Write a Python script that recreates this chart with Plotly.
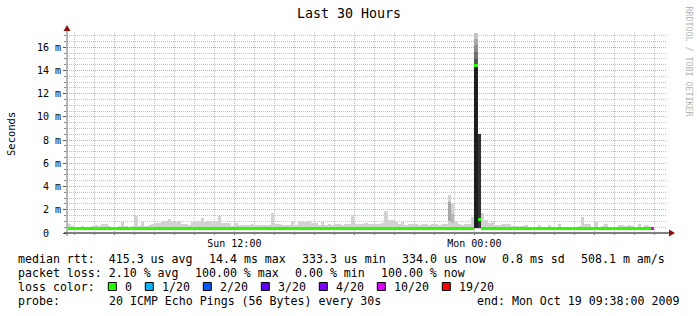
import plotly.graph_objects as go
import pandas as pd

# ---------------- data ----------------
title_text = "Last 30 Hours"
y_label = "Seconds"
watermark = "RRDTOOL / TOBI OETIKER"

x_start = "2009-10-18 03:38"
x_end = "2009-10-19 09:38"
first_column = "2009-10-18 03:40"
column_step = "10min"

x_tick_vals = ["2009-10-18 06:00", "2009-10-18 12:00", "2009-10-18 18:00",
               "2009-10-19 00:00", "2009-10-19 06:00"]
x_tick_text = ["", "Sun 12:00", "", "Mon 00:00", ""]
y_tick_vals = [0, 2, 4, 6, 8, 10, 12, 14, 16]
y_tick_text = ["0\u00a0\u00a0", "2 m", "4 m", "6 m", "8 m", "10 m", "12 m", "14 m", "16 m"]
y_max = 17.23

min_rtt = 0.333  # ms

# top of the smoke (ms) for every 10-minute column
smoke_top = [
    0.78, 0.60, 0.55, 0.55, 0.60, 0.55, 0.55, 0.60, 0.65, 0.60, 0.78, 0.78,
    0.60, 0.55, 0.55, 0.60, 0.92, 0.60, 0.55, 0.60, 1.49, 0.60, 0.92, 0.60,
    0.70, 0.78, 0.85, 0.85, 1.06, 1.06, 1.20, 0.92, 0.92, 1.00, 0.78, 0.78,
    0.70, 0.92, 1.00, 1.00, 1.29, 0.92, 1.00, 1.00, 1.00, 1.49, 0.85, 0.85,
    0.85, 0.60, 0.85, 0.65, 0.65, 0.65, 0.65, 0.78, 0.65, 0.65, 0.65, 0.65,
    0.65, 1.72, 0.78, 0.78, 0.70, 0.65, 0.70, 1.00, 0.70, 0.92, 1.00, 0.92,
    1.00, 0.85, 0.85, 0.70, 0.92, 0.70, 0.75, 0.72, 0.75, 0.78, 0.72, 0.75,
    0.75, 1.58, 0.80, 0.75, 0.80, 0.85, 0.75, 0.80, 0.75, 0.80, 0.85, 1.92,
    1.15, 1.15, 0.92, 0.80, 0.92, 0.70, 0.75, 0.80, 0.75, 0.72, 0.80, 0.75,
    0.72, 0.75, 0.80, 0.72, 0.75, 0.78, 3.30, 2.60, 1.00, 0.75, 0.72, 0.75,
    0.78, 1.40, 17.30, 8.50, 1.70, 1.10, 0.90, 0.95, 0.70, 0.70, 0.80, 0.80,
    0.75, 0.60, 0.60, 0.60, 0.60, 0.70, 0.55, 0.55, 0.55, 0.65, 0.55, 0.55,
    0.65, 0.55, 0.55, 0.78, 0.55, 0.55, 0.55, 0.55, 0.55, 0.60, 1.38, 0.75,
    0.75, 0.55, 1.00, 0.55, 0.60, 0.80, 0.55, 0.55, 0.55, 0.65, 0.72, 0.60,
    0.65, 0.60, 0.55, 0.80, 0.55, 0.72, 0.60, 0.55,
]

# median rtt (ms) for every column
median_rtt = [
    0.40, 0.40, 0.40, 0.40, 0.40, 0.40, 0.40, 0.40, 0.40, 0.40, 0.40, 0.40,
    0.40, 0.40, 0.40, 0.40, 0.40, 0.40, 0.40, 0.40, 0.40, 0.40, 0.40, 0.40,
    0.40, 0.40, 0.40, 0.40, 0.40, 0.40, 0.40, 0.40, 0.40, 0.40, 0.40, 0.40,
    0.40, 0.40, 0.40, 0.40, 0.40, 0.40, 0.40, 0.40, 0.40, 0.40, 0.40, 0.40,
    0.40, 0.40, 0.40, 0.40, 0.40, 0.40, 0.40, 0.40, 0.40, 0.40, 0.40, 0.40,
    0.40, 0.40, 0.40, 0.40, 0.40, 0.40, 0.40, 0.40, 0.40, 0.40, 0.40, 0.40,
    0.40, 0.40, 0.40, 0.40, 0.40, 0.40, 0.40, 0.40, 0.40, 0.40, 0.40, 0.40,
    0.40, 0.40, 0.40, 0.40, 0.40, 0.40, 0.40, 0.40, 0.40, 0.40, 0.40, 0.40,
    0.40, 0.40, 0.40, 0.40, 0.40, 0.40, 0.40, 0.40, 0.40, 0.40, 0.40, 0.40,
    0.40, 0.40, 0.40, 0.40, 0.40, 0.40, 0.43, 0.43, 0.43, 0.43, 0.43, 0.43,
    0.43, 0.43, 14.40, 1.20, 0.42, 0.42, 0.42, 0.42, 0.42, 0.42, 0.42, 0.42,
    0.42, 0.42, 0.40, 0.40, 0.40, 0.40, 0.40, 0.40, 0.40, 0.40, 0.40, 0.40,
    0.40, 0.40, 0.40, 0.40, 0.40, 0.40, 0.40, 0.40, 0.40, 0.40, 0.40, 0.40,
    0.40, 0.40, 0.40, 0.40, 0.40, 0.40, 0.40, 0.40, 0.40, 0.40, 0.40, 0.40,
    0.40, 0.40, 0.40, 0.40, 0.40, 0.40, 0.40, 0.40,
]

# lost pings (out of 20) for every column
loss_count = [
    0, 0, 0, 0, 0, 0, 0, 0, 0, 0, 0, 0, 0, 0, 0, 0, 0, 0, 0, 0, 0, 0, 0, 0,
    0, 0, 0, 0, 0, 0, 0, 0, 0, 0, 0, 0, 0, 0, 0, 0, 0, 0, 0, 0, 0, 0, 0, 0,
    0, 0, 0, 0, 0, 0, 0, 0, 0, 0, 0, 0, 0, 0, 0, 0, 0, 0, 0, 0, 0, 0, 0, 0,
    0, 0, 0, 0, 0, 0, 0, 0, 0, 0, 0, 0, 0, 0, 0, 0, 0, 0, 0, 0, 0, 0, 0, 0,
    0, 0, 0, 0, 0, 0, 0, 0, 0, 0, 0, 0, 0, 0, 0, 0, 0, 0, 0, 0, 0, 0, 0, 0,
    0, 0, 0, 0, 0, 0, 0, 0, 0, 0, 0, 0, 0, 0, 0, 0, 0, 0, 0, 0, 0, 0, 0, 0,
    0, 0, 0, 0, 0, 0, 0, 0, 0, 0, 0, 0, 0, 0, 0, 0, 0, 0, 0, 0, 0, 0, 0, 0,
    0, 0, 0, 0, 0, 0, 0, 10,
]

# denser (darker) smoke layers
dense_time = ["2009-10-18 22:40", "2009-10-18 22:50",
              "2009-10-19 00:00", "2009-10-19 00:00", "2009-10-19 00:00",
              "2009-10-19 00:00", "2009-10-19 00:00", "2009-10-19 00:00",
              "2009-10-19 00:10"]
dense_low = [1.0, 0.9, 0.40, 14.4, 15.0, 15.6, 16.2, 16.7, 0.40]
dense_high = [2.7, 1.6, 14.4, 15.0, 15.6, 16.2, 16.7, 17.3, 8.5]
dense_gray = ["#a6a6a6", "#b8b8b8", "#1e1e1e", "#555555", "#717171",
              "#8d8d8d", "#a9a9a9", "#c5c5c5", "#333333"]

loss_labels = ["0", "1/20", "2/20", "3/20", "4/20", "10/20", "19/20"]
loss_thresholds = [0, 1, 2, 3, 4, 10, 19]
loss_colors = ["#26ff00", "#00b8ff", "#0059ff", "#5e00ff", "#7e00ff", "#dd00ff", "#ff0000"]

median_items = ["median rtt:  415.3 us avg", "14.4 ms max", "333.3 us min",
                "334.0 us now", "0.8 ms sd", "508.1 m am/s"]
loss_items = ["packet loss: 2.10 % avg", "100.00 % max", "0.00 % min", "100.00 % now"]
color_label = "loss color:"
probe_label = "probe:"
probe_text = "20 ICMP Echo Pings (56 Bytes) every 30s"
end_text = "end: Mon Oct 19 09:38:00 2009"

# ---------------- layout constants ----------------
W, H = 697, 316
ML, MR, MT, MB = 67, 30, 33, 83
PW, PH = W - ML - MR, H - MT - MB
MONO = "DejaVu Sans Mono"
LEG_SIZE = 11.6
CHAR_W = 7.0
ITEM_GAP = 16.0

def px(x):
    return (x - ML) / PW

def py(y):
    return (H - MB - y) / PH

col_times = pd.date_range(first_column, periods=len(smoke_top), freq=column_step)
col_width_ms = pd.Timedelta(column_step).total_seconds() * 1000

def loss_color(n):
    c = loss_colors[0]
    for t, col in zip(loss_thresholds, loss_colors):
        if n >= t:
            c = col
    return c

fig = go.Figure()

# light smoke
fig.add_trace(go.Bar(
    x=col_times, y=[t - min_rtt for t in smoke_top], base=[min_rtt] * len(smoke_top),
    offset=0, width=col_width_ms, marker=dict(color="#d2d2d2", line=dict(width=0)),
    hoverinfo="skip", showlegend=False))

# dense smoke
fig.add_trace(go.Bar(
    x=pd.to_datetime(dense_time), y=[h - l for l, h in zip(dense_low, dense_high)],
    base=dense_low, offset=0, width=col_width_ms,
    marker=dict(color=dense_gray, line=dict(width=0)),
    hoverinfo="skip", showlegend=False))

# median, coloured by loss
MED_T = 0.26
fig.add_trace(go.Bar(
    x=col_times, y=[MED_T] * len(median_rtt), base=[m - MED_T / 2 for m in median_rtt],
    offset=0, width=col_width_ms,
    marker=dict(color=[loss_color(n) for n in loss_count], line=dict(width=0)),
    hoverinfo="skip", showlegend=False))

minor_grid = "#c4c4c4"
major_grid = "#e6a3a3"

fig.update_layout(
    width=W, height=H, autosize=False,
    margin=dict(l=ML, r=MR, t=MT, b=MB, pad=0),
    paper_bgcolor="white", plot_bgcolor="white",
    barmode="overlay", bargap=0, showlegend=False,
    font=dict(family=MONO, color="black"),
    xaxis=dict(
        type="date", range=[x_start, x_end], tickmode="array",
        tickvals=x_tick_vals, ticktext=x_tick_text,
        tickfont=dict(family=MONO, size=10, color="black"),
        showgrid=True, gridcolor=major_grid, griddash="1px,1px", gridwidth=1,
        ticks="outside", ticklen=1, tickcolor="#555",
        showline=False, zeroline=False,
        minor=dict(tickmode="linear", tick0="2009-10-18 00:00", dtick=3600000,
                   showgrid=True, gridcolor=minor_grid, griddash="1px,1px",
                   ticks="outside", ticklen=1, tickcolor="#888"),
    ),
    yaxis=dict(
        range=[0, y_max], tickmode="array", tickvals=y_tick_vals, ticktext=y_tick_text,
        tickfont=dict(family=MONO, size=10, color="black"),
        showgrid=True, gridcolor=major_grid, griddash="1px,1px", gridwidth=1,
        ticks="outside", ticklen=3, tickcolor="#555",
        showline=False, zeroline=False,
        minor=dict(tickmode="linear", tick0=0, dtick=0.5,
                   showgrid=True, gridcolor=minor_grid, griddash="1px,1px",
                   ticks="outside", ticklen=2, tickcolor="#888"),
    ),
)

shapes = []
# axes lines
shapes.append(dict(type="line", xref="paper", yref="paper",
                   x0=px(64), x1=px(670), y0=py(233), y1=py(233),
                   line=dict(color="black", width=1)))
shapes.append(dict(type="line", xref="paper", yref="paper",
                   x0=px(67), x1=px(67), y0=py(236), y1=py(30),
                   line=dict(color="#6e6e6e", width=1)))
# arrows
shapes.append(dict(type="path", xref="paper", yref="paper",
                   path=f"M {px(669)},{py(229.5)} L {px(675)},{py(233)} L {px(669)},{py(236.5)} Z",
                   fillcolor="#8b1010", line=dict(width=0)))
shapes.append(dict(type="path", xref="paper", yref="paper",
                   path=f"M {px(63.5)},{py(31)} L {px(67)},{py(25)} L {px(70.5)},{py(31)} Z",
                   fillcolor="#8b1010", line=dict(width=0)))

annotations = []

def text(x, y, s, size=LEG_SIZE, anchor="left", color="black", angle=0):
    annotations.append(dict(text=s, x=px(x), y=py(y), xref="paper", yref="paper",
                            xanchor=anchor, yanchor="middle", showarrow=False,
                            borderpad=0, textangle=angle,
                            font=dict(family=MONO, size=size, color=color)))

text(348.5, 13.5, title_text, size=13.3, anchor="center")
text(11, 134, y_label, size=10.5, anchor="center", angle=-90)
text(688.5, 61, watermark, size=8.3, anchor="center", color="#b4b4b4", angle=90)

LX = 16.7
row_y = [258.5, 272.5, 286.5, 300.5]

def legend_row(items, y):
    x = LX
    for s in items:
        text(x, y, s)
        x += len(s) * CHAR_W + ITEM_GAP

legend_row(median_items, row_y[0])
legend_row(loss_items, row_y[1])

text(LX, row_y[2], color_label)
lx = LX + 15 * CHAR_W + 2.3
for lab, col in zip(loss_labels, loss_colors):
    bx = lx - 15.7
    shapes.append(dict(type="rect", xref="paper", yref="paper",
                       x0=px(bx), x1=px(bx + 8), y0=py(row_y[2] - 4), y1=py(row_y[2] + 4),
                       fillcolor=col, line=dict(color="black", width=1)))
    text(lx, row_y[2], lab)
    lx += len(lab) * CHAR_W + 30

text(LX, row_y[3], probe_label)
text(LX + 13 * CHAR_W, row_y[3], probe_text)
text(W - 16.7, row_y[3], end_text, anchor="right")

fig.update_layout(shapes=shapes, annotations=annotations)
fig.write_html("out.html")
